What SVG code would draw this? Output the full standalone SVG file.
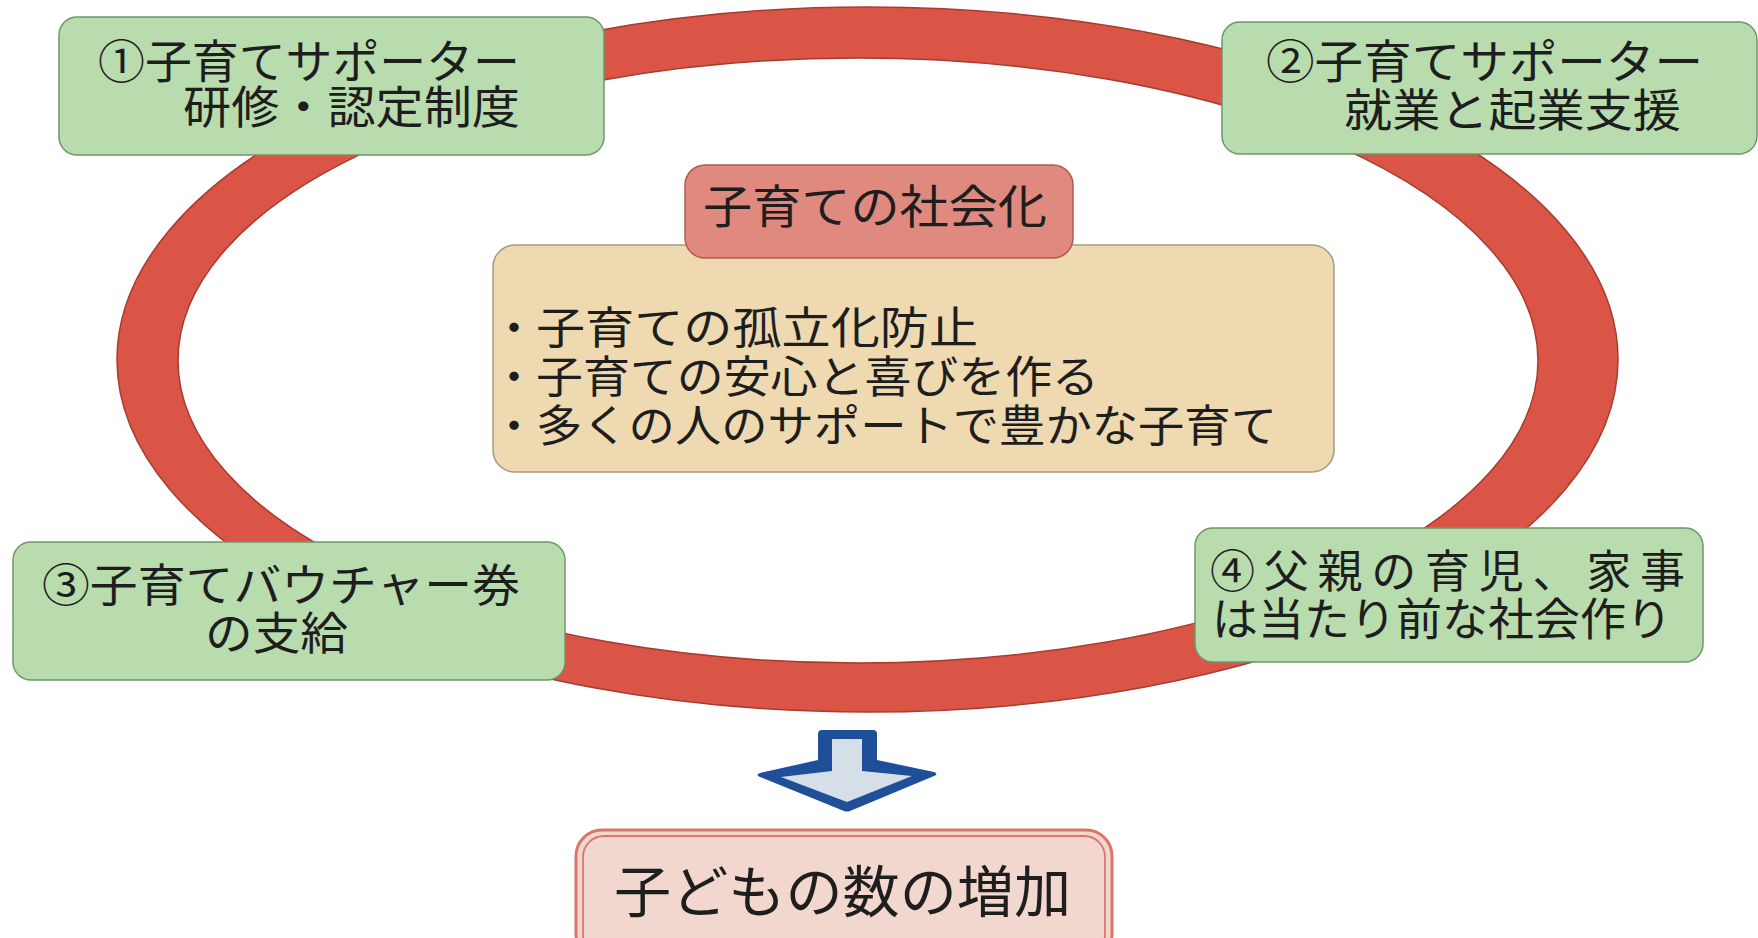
<svg xmlns="http://www.w3.org/2000/svg" width="1758" height="938" viewBox="0 0 1758 938">
<style>
.t{font-family:"Noto Sans CJK JP","Noto Sans CJK SC",sans-serif;fill:#1e1e1e;}
.g{fill:#b9dcae;stroke:#6f976a;stroke-width:1.5;}
</style>
<rect width="1758" height="938" fill="#ffffff"/>
<g id="ring">
<path d="M117,359.5 A750.5,352.5 0 1 0 1618,359.5 A750.5,352.5 0 1 0 117,359.5 Z M178,360.5 A680,302.5 0 1 1 1538,360.5 A680,302.5 0 1 1 178,360.5 Z" fill="#da5546" fill-rule="evenodd" stroke="#a83a30" stroke-width="1.5"/>
</g>
<g id="connectors">
<path d="M818,734 Q818,730 822,730 H873 Q877,730 877,734 V760 L934,772 Q939,774 934,776 L850,811 Q847,812 844,811 L760,777 Q755,775 760,773 L818,760 Z" fill="#1f4f98"/>
<path d="M832,739 H862 V771 L912,776 L847,802 L781,777 L832,771 Z" fill="#d6dee8"/>
</g>
<g id="node1">
<rect class="g" x="59" y="17" width="545" height="138" rx="18"/>
<text class="t" x="98" y="78" font-size="46" textLength="422" lengthAdjust="spacingAndGlyphs">①子育てサポーター</text>
<text class="t" x="183" y="124" font-size="45" textLength="337" lengthAdjust="spacingAndGlyphs">研修・認定制度</text>
</g>
<g id="node2">
<rect class="g" x="1222" y="22" width="535" height="132" rx="18"/>
<text class="t" x="1266" y="78" font-size="46" textLength="437" lengthAdjust="spacingAndGlyphs">②子育てサポーター</text>
<text class="t" x="1344" y="127" font-size="45" textLength="337" lengthAdjust="spacingAndGlyphs">就業と起業支援</text>
</g>
<g id="node3">
<rect class="g" x="13" y="542" width="552" height="138" rx="18"/>
<text class="t" x="42" y="602" font-size="45" textLength="478" lengthAdjust="spacingAndGlyphs">③子育てバウチャー券</text>
<text class="t" x="205" y="650" font-size="45" textLength="143" lengthAdjust="spacingAndGlyphs">の支給</text>
</g>
<g id="node4">
<rect class="g" x="1195" y="528" width="508" height="134" rx="18" fill="#c2e0b8"/>
<text class="t" x="1210" y="588" font-size="45" textLength="475" lengthAdjust="spacing">④父親の育児、家事</text>
<text class="t" x="1212" y="636" font-size="45" textLength="460" lengthAdjust="spacingAndGlyphs">は当たり前な社会作り</text>
</g>
<g id="content">
<rect x="493" y="245" width="841" height="227" rx="22" fill="#eed9b1" stroke="#a39c86" stroke-width="1.5"/>
<text class="t" font-size="44"><tspan x="492" y="344">・</tspan><tspan x="536" y="344" textLength="442" lengthAdjust="spacingAndGlyphs">子育ての孤立化防止</tspan></text>
<text class="t" font-size="44"><tspan x="492" y="393">・</tspan><tspan x="536" y="393" textLength="563" lengthAdjust="spacingAndGlyphs">子育ての安心と喜びを作る</tspan></text>
<text class="t" font-size="44"><tspan x="492" y="442">・</tspan><tspan x="536" y="442" textLength="741" lengthAdjust="spacingAndGlyphs">多くの人のサポートで豊かな子育て</tspan></text>
</g>
<g id="title">
<rect x="685" y="165" width="388" height="93" rx="20" fill="#e08a7f" stroke="#b05a50" stroke-width="1.5"/>
<text class="t" x="703" y="223" font-size="46" textLength="344" lengthAdjust="spacingAndGlyphs">子育ての社会化</text>
</g>
<g id="result">
<rect x="576" y="830" width="536" height="130" rx="26" fill="#f1d7cd" stroke="#d9776a" stroke-width="3"/>
<rect x="583" y="836" width="522" height="120" rx="21" fill="none" stroke="#d9776a" stroke-width="1.8"/>
<text class="t" x="614" y="912" font-size="56" textLength="457" lengthAdjust="spacingAndGlyphs">子どもの数の増加</text>
</g>
</svg>
